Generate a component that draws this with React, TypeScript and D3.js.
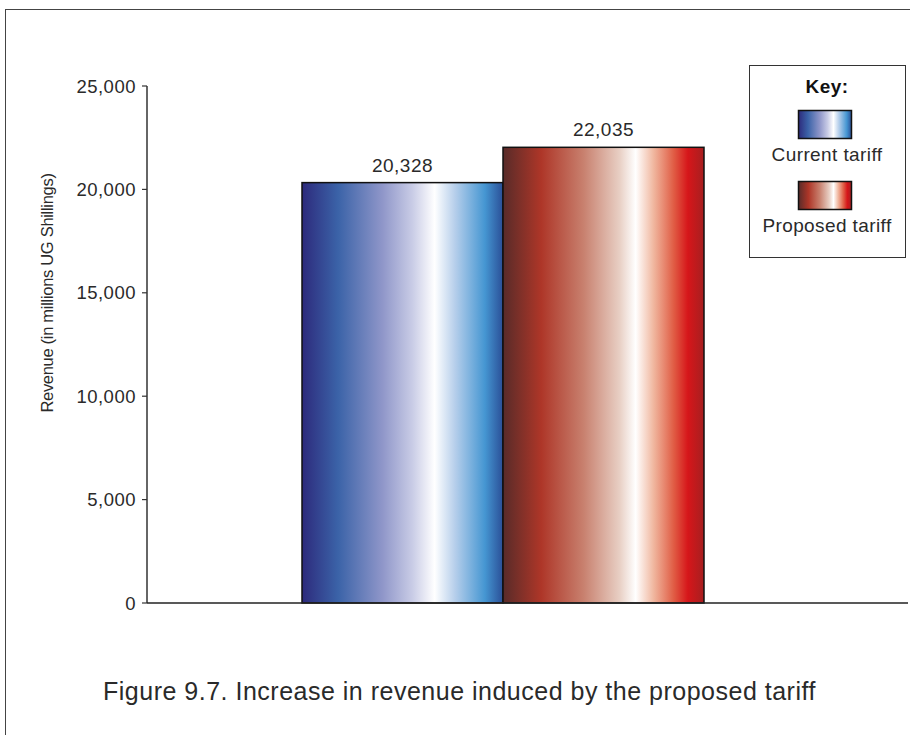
import React from "react";
import * as d3 from "d3";

// Revenue by tariff scenario (millions of UG Shillings)
const categories = ["Current tariff", "Proposed tariff"];
const revenues = [20328, 22035];
const yTicks = [0, 5000, 10000, 15000, 20000, 25000];

const W = 910;
const H = 735;
const FONT = "'Liberation Sans', Arial, Helvetica, sans-serif";
const INK = "#2a2a2a";

// Gradient stops per series: [offset, colour]
const blueStops: [number, string][] = [
  [0, "#2d2a7c"],
  [0.18, "#3b63a8"],
  [0.4, "#8f96c9"],
  [0.55, "#c9cce6"],
  [0.66, "#ffffff"],
  [0.76, "#b7cfeb"],
  [0.91, "#4596d2"],
  [1, "#2a4f97"],
];
const redStops: [number, string][] = [
  [0, "#582b29"],
  [0.19, "#ae3628"],
  [0.4, "#c8806e"],
  [0.58, "#e8cfc4"],
  [0.66, "#ffffff"],
  [0.75, "#f0b69e"],
  [0.85, "#e05c44"],
  [0.92, "#d6161a"],
  [1, "#a61f20"],
];
const seriesStops = [blueStops, redStops];
const gradIds = ["grad-current", "grad-proposed"];

export default function App() {
  const y = d3.scaleLinear().domain([0, 25000]).range([603, 86]);
  const x = d3.scaleBand<string>().domain(categories).range([302, 704]).paddingInner(0).paddingOuter(0);
  const axisX = 147;
  const fmt = d3.format(",");

  return (
    <div style={{ position: "absolute", left: 0, top: 0 }}>
      <svg width={W} height={H} style={{ display: "block", background: "#fff" }}>
        <defs>
          {seriesStops.map((stops, i) => (
            <linearGradient key={i} id={gradIds[i]} x1="0" y1="0" x2="1" y2="0">
              {stops.map(([o, c], j) => (
                <stop key={j} offset={o} stopColor={c} />
              ))}
            </linearGradient>
          ))}
        </defs>

        {/* outer frame */}
        <rect x={5.5} y={9.5} width={W + 20} height={H + 20} fill="none" stroke="#444" strokeWidth={1} />

        {/* bars */}
        {categories.map((c, i) => (
          <rect
            key={c}
            x={x(c)!}
            y={y(revenues[i])}
            width={x.bandwidth()}
            height={y(0) - y(revenues[i])}
            fill={`url(#${gradIds[i]})`}
            stroke="#111"
            strokeWidth={1.5}
          />
        ))}

        {/* value labels */}
        {categories.map((c, i) => (
          <text
            key={c}
            x={x(c)! + x.bandwidth() / 2}
            y={y(revenues[i]) - 11}
            textAnchor="middle"
            fontFamily={FONT}
            fontSize={19}
            letterSpacing={0.5}
            fill={INK}
          >
            {fmt(revenues[i])}
          </text>
        ))}

        {/* axes */}
        <line x1={axisX} x2={axisX} y1={y(25000)} y2={y(0)} stroke="#333" strokeWidth={1.5} />
        <line x1={axisX} x2={908} y1={y(0)} y2={y(0)} stroke="#222" strokeWidth={1.5} />
        {yTicks.map((t) => (
          <g key={t}>
            <line x1={axisX - 5} x2={axisX} y1={y(t)} y2={y(t)} stroke="#333" strokeWidth={1.2} />
            <text
              x={axisX - 11}
              y={y(t)}
              dy="0.36em"
              textAnchor="end"
              fontFamily={FONT}
              fontSize={18.5}
              letterSpacing={0.5}
              fill={INK}
            >
              {fmt(t)}
            </text>
          </g>
        ))}
        <text
          transform={`translate(53,${293}) rotate(-90)`}
          textAnchor="middle"
          fontFamily={FONT}
          fontSize={16.5}
          letterSpacing={-0.3}
          fill={INK}
        >
          Revenue (in millions UG Shillings)
        </text>

        {/* legend */}
        <rect x={749.5} y={65.5} width={156} height={192} fill="#fff" stroke="#333" strokeWidth={1} />
        <text
          x={827}
          y={93}
          textAnchor="middle"
          fontFamily={FONT}
          fontSize={19}
          fontWeight="bold"
          letterSpacing={0.5}
          fill="#111"
        >
          Key:
        </text>
        {categories.map((c, i) => (
          <g key={c} transform={`translate(0,${i * 71})`}>
            <rect
              x={798.5}
              y={110.5}
              width={53}
              height={28}
              fill={`url(#${gradIds[i]})`}
              stroke="#111"
              strokeWidth={1.5}
            />
            <text
              x={827}
              y={161}
              textAnchor="middle"
              fontFamily={FONT}
              fontSize={19}
              letterSpacing={0.4}
              fill={INK}
            >
              {c}
            </text>
          </g>
        ))}

        {/* caption */}
        <text x={103} y={700} fontFamily={FONT} fontSize={25} letterSpacing={0.5} fill={INK}>
          Figure 9.7. Increase in revenue induced by the proposed tariff
        </text>
      </svg>
    </div>
  );
}
